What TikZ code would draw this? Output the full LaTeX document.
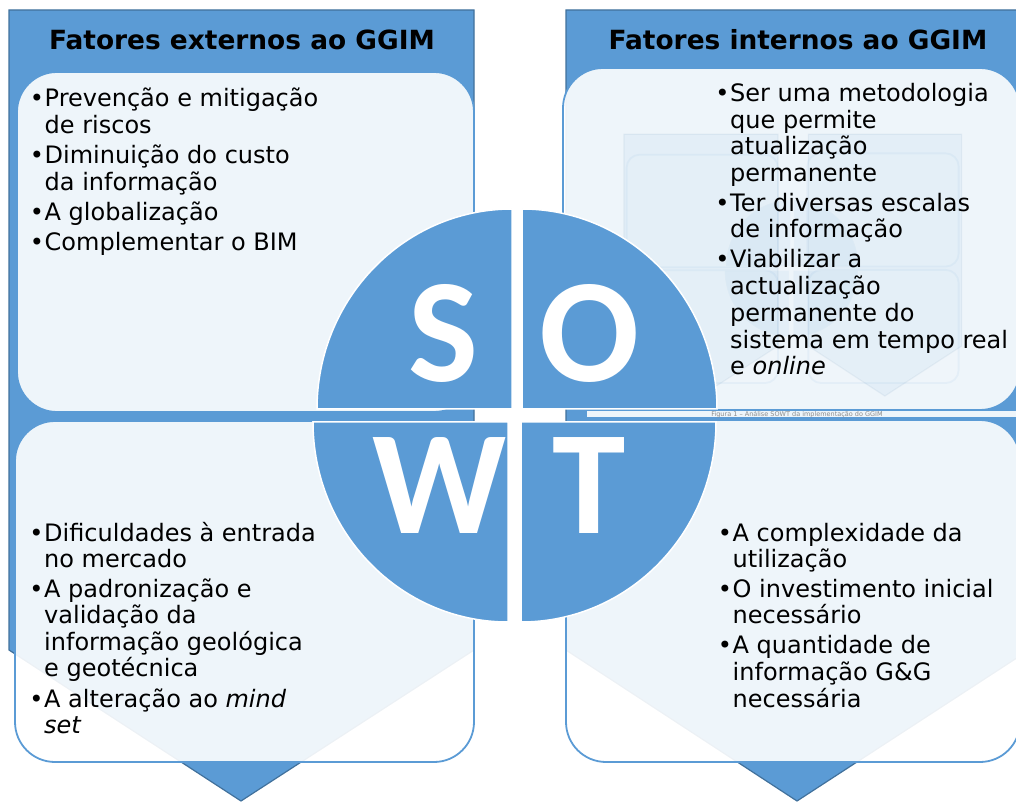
\documentclass[tikz,border=0pt]{standalone}
\usepackage{fontspec}
\setmainfont{DejaVu Sans}
\newfontfamily\letterfont{Carlito}
\definecolor{sblue}{RGB}{91,155,213}
\definecolor{sedge}{RGB}{65,113,156}
\definecolor{capgray}{RGB}{140,140,140}
\newcommand\boxr{40pt}
\newcommand\bfo{0.9}
\tikzset{
  chev/.style={fill=sblue, draw=sedge, line width=1.2pt, line join=miter},
  sbox/.style={fill=white, fill opacity=\bfo, draw=sblue, line width=1.8pt, rounded corners=\boxr},
  quad/.style={fill=sblue, draw=white, line width=1.5pt},
  letter/.style={anchor=base, inner sep=0pt, text=white, font=\letterfont\bfseries\fontsize{148}{148}\selectfont},
  ttl/.style={anchor=base, inner sep=0pt, font=\bfseries\fontsize{26.4}{30}\selectfont},
  txt/.style={anchor=base west, inner sep=0pt, font=\fontsize{24}{28}\selectfont},
  bul/.style={anchor=base, inner sep=0pt, font=\fontsize{24}{28}\selectfont},
}
\newcommand\figbg{%
  \draw[chev] (9,791) -- (474,791) -- (474,151) -- (241,0) -- (9,151) -- cycle;
  \draw[chev] (566,791) -- (1029,791) -- (1029,151) -- (797,0) -- (566,151) -- cycle;
  \draw[sbox] (17,389) rectangle (474,729);
  \draw[sbox] (563,391) rectangle (1020,733);
  \draw[sbox] (15,39) rectangle (474,380);
  \draw[sbox] (566,39) rectangle (1020,381);
}
\newcommand\figtext{%
  \node[ttl] (t1) at (242,751) {Fatores externos ao GGIM};
  \node[ttl] (t2) at (798,751) {Fatores internos ao GGIM};
  \foreach \t/\yy [count=\i] in {{Prevenção e mitigação}/694, {de riscos}/667, {Diminuição do custo}/637, {da informação}/610, {A globalização}/580, {Complementar o BIM}/550}
    \node[txt, name=tl\i] at (44.5,\yy) {\t};
  \foreach \yy [count=\i] in {694,637,580,550}
    \node[bul, name=tlb\i] at (37,\yy) {•};
  \foreach \t/\yy [count=\i] in {{Ser uma metodologia}/699, {que permite}/672, {atualização}/646, {permanente}/619, {Ter diversas escalas}/589, {de informação}/563, {Viabilizar a}/533, {actualização}/506, {permanente do}/479, {sistema em tempo real}/452, {e \textit{online}}/426}
    \node[txt, name=tr\i] at (730,\yy) {\t};
  \foreach \yy [count=\i] in {699,589,533}
    \node[bul, name=trb\i] at (722.5,\yy) {•};
  \foreach \t/\yy [count=\i] in {{Dificuldades à entrada}/260, {no mercado}/234, {A padronização e}/204, {validação da}/178, {informação geológica}/151, {e geotécnica}/125, {A alteração ao \textit{mind}}/94, {\textit{set}}/68}
    \node[txt, name=bl\i] at (44,\yy) {\t};
  \foreach \yy [count=\i] in {260,204,94}
    \node[bul, name=blb\i] at (36.5,\yy) {•};
  \foreach \t/\yy [count=\i] in {{A complexidade da}/260, {utilização}/234, {O investimento inicial}/204, {necessário}/178, {A quantidade de}/148, {informação G\&G}/121, {necessária}/94}
    \node[txt, name=br\i] at (732.5,\yy) {\t};
  \foreach \yy [count=\i] in {260,204,148}
    \node[bul, name=brb\i] at (725,\yy) {•};
}
\newcommand\figquads{%
  \draw[quad] (512,392) -- (317,392) arc[start angle=180, end angle=90, x radius=195pt, y radius=200pt] -- cycle;
  \draw[quad] (522,392) -- (522,592) arc[start angle=90, end angle=0, x radius=195pt, y radius=200pt] -- cycle;
  \draw[quad] (508,379) -- (313,379) arc[start angle=180, end angle=270, x radius=195pt, y radius=200pt] -- cycle;
  \draw[quad] (521,379) -- (716,379) arc[start angle=0, end angle=-90, x radius=195pt, y radius=200pt] -- cycle;
}
\begin{document}
\begin{tikzpicture}[x=1pt, y=1pt]
  \useasboundingbox (0,0) rectangle (1016,801);
  \clip (0,0) rectangle (1016,801);
  \figbg
  % very faint copy of the figure inside the upper right box
  \begin{scope}[shift={(621,405)}, scale=0.331, transform shape, opacity=0.07]
    \renewcommand\boxr{13pt}\renewcommand\bfo{0.07}
    \figbg
    \figquads
  \end{scope}
  \fill[white, opacity=0.9] (587,383.5) rectangle (1016,389.5);
  \node[font=\fontsize{6.5}{7}\selectfont, text=capgray, inner sep=0pt] (cap) at (797,386.5) {Figura 1 – Análise SOWT da implementação do GGIM};
  \figtext
  \figquads
  \node[letter] (S) at (443,419) {S};
  \node[letter] (O) at (590,419) {O};
  \node[letter] (W) at (440,268) {W};
  \node[letter] (T) at (589,268) {T};
\end{tikzpicture}
\end{document}
